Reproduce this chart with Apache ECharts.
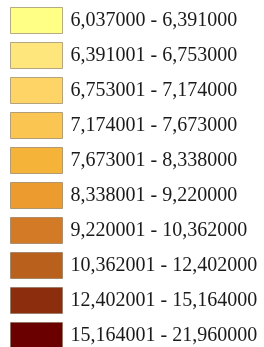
<!DOCTYPE html>
<html>
<head>
<meta charset="utf-8">
<script src="https://cdn.jsdelivr.net/npm/echarts@6/dist/echarts.min.js"></script>
<style>
html,body{margin:0;padding:0;background:#fff;}
#main{width:264px;height:347px;}
</style>
</head>
<body>
<div id="main"></div>
<script>
// class breaks of the legend
var lowers = ['6,037000', '6,391001', '6,753001', '7,174001', '7,673001', '8,338001', '9,220001', '10,362001', '12,402001', '15,164001'];
var uppers = ['6,391000', '6,753000', '7,174000', '7,673000', '8,338000', '9,220000', '10,362000', '12,402000', '15,164000', '21,960000'];
var colors = ['#FFFE85', '#FEE67C', '#FDD465', '#FAC550', '#F6B33A', '#EC9B2E', '#D27A25', '#B9601D', '#8C2D0E', '#6A0000'];

var names = [];
var series = [];
for (var i = 0; i < lowers.length; i++) {
    var nm = lowers[i] + ' - ' + uppers[i];
    names.push(nm);
    series.push({ name: nm, type: 'bar', data: [], itemStyle: { color: colors[i] } });
}

var chart = echarts.init(document.getElementById('main'));
chart.setOption({
    animation: false,
    xAxis: { show: false, type: 'category', data: [] },
    yAxis: { show: false },
    grid: { show: false },
    legend: {
        orient: 'vertical',
        left: 10,
        top: 7,
        height: 400,
        padding: 0,
        data: names,
        icon: 'rect',
        itemWidth: 52,
        itemHeight: 26,
        itemGap: 8,
        selectedMode: false,
        itemStyle: { borderColor: 'rgba(120,105,80,0.55)', borderWidth: 1 },
        textStyle: {
            fontFamily: 'Liberation Serif',
            fontSize: 20,
            lineHeight: 26,
            color: '#1a1a1a',
            padding: [0, 0, 0, 3]
        }
    },
    series: series
});
</script>
</body>
</html>
